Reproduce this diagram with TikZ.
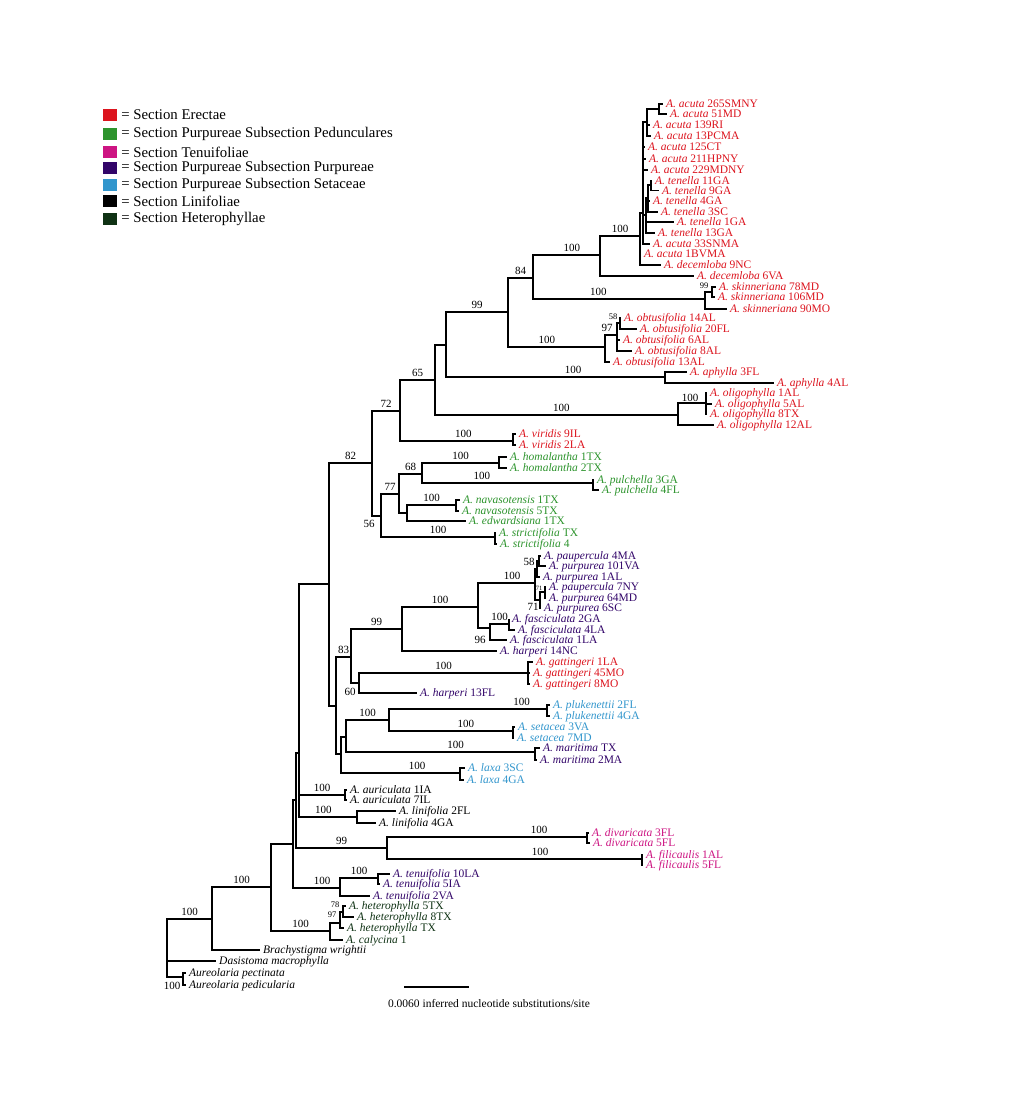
\documentclass[tikz,border=0pt]{standalone}
\usepackage{fontspec}
\setmainfont{Liberation Serif}
\usetikzlibrary{positioning}
\definecolor{erc}{RGB}{220,20,30}
\definecolor{ped}{RGB}{45,148,45}
\definecolor{tenc}{RGB}{205,20,130}
\definecolor{pur}{RGB}{50,5,105}
\definecolor{setc}{RGB}{50,150,205}
\definecolor{hetc}{RGB}{15,50,20}
\newcommand{\asp}[2]{\textit{A. #1} #2}

\begin{document}
\begin{tikzpicture}[x=1pt, y=-1pt,
        br/.style={line width=1.5pt},
        taxon/.style={anchor=west, inner xsep=3pt, inner ysep=0pt, text height=8.5pt, text depth=1pt, font=\fontsize{11.5}{13}\selectfont},
        boot/.style={above, inner sep=2.5pt, font=\fontsize{11}{12}\selectfont},
        lab/.style={inner sep=0pt, font=\fontsize{11}{12}\selectfont},
        slab/.style={inner sep=0pt, font=\fontsize{8.5}{9}\selectfont},
        legendbox/.style={minimum width=14pt, minimum height=12pt, inner sep=0pt},
        legendtext/.style={inner xsep=2pt, font=\fontsize{14.8}{16}\selectfont}]
        \fill[white] (0, 0) rectangle (1030, 1112);
        \useasboundingbox (0, 0) rectangle (1030, 1112);

        \foreach \c/\yy/\t [count=\i] in {erc/115/Erectae, ped/134/Purpureae Subsection Pedunculares, tenc/152/Tenuifoliae, pur/168/Purpureae Subsection Purpureae, setc/185/Purpureae Subsection Setaceae, black/201/Linifoliae, hetc/219/Heterophyllae} {
            \node[legendbox, fill=\c] (box\i) at (110, \yy) {};
            \node[legendtext, right=2pt of box\i] (entry\i) {= Section \t};
        }

        \coordinate (A1) at (659, 109);
        \coordinate (Q) at (647, 122);
        \coordinate (T1) at (651, 185);
        \coordinate (T2) at (648, 198);
        \coordinate (T) at (646, 215);
        \coordinate (P) at (643, 213);
        \coordinate (R) at (640, 236);
        \coordinate (N100a) at (600, 255);
        \coordinate (Sk99) at (712, 292);
        \coordinate (Sk) at (705, 299);
        \coordinate (N84) at (533, 278);
        \coordinate (N58o) at (620, 323);
        \coordinate (Ob97) at (617, 335);
        \coordinate (Ob) at (605, 347);
        \coordinate (N99) at (508, 312);
        \coordinate (Aph) at (665, 377);
        \coordinate (Nx) at (446, 345);
        \coordinate (Ol100) at (706, 403);
        \coordinate (Ol) at (678, 415);
        \coordinate (N65) at (435, 380);
        \coordinate (Vir) at (513, 441);
        \coordinate (N72) at (400, 411);
        \coordinate (Hom) at (499, 463);
        \coordinate (Pul) at (593, 483);
        \coordinate (N68) at (422, 474);
        \coordinate (Nav) at (456, 505);
        \coordinate (NavE) at (407, 513);
        \coordinate (N77) at (399, 494);
        \coordinate (Str) at (495, 537);
        \coordinate (N56) at (381, 516);
        \coordinate (N82) at (372, 463);
        \coordinate (N58p) at (539, 561);
        \coordinate (Nq) at (537, 569);
        \coordinate (N71a) at (545, 592);
        \coordinate (N71b) at (540, 600);
        \coordinate (Np) at (535, 583);
        \coordinate (Fa) at (509, 624);
        \coordinate (N96) at (490, 628);
        \coordinate (N100d) at (478, 607);
        \coordinate (N99b) at (402, 629);
        \coordinate (Gat) at (528, 673);
        \coordinate (N60) at (359, 683);
        \coordinate (N83) at (351, 657);
        \coordinate (Pk) at (547, 709);
        \coordinate (Se) at (513, 731);
        \coordinate (N100c) at (389, 720);
        \coordinate (Ma) at (535, 752);
        \coordinate (N346) at (346, 737);
        \coordinate (La) at (460, 773);
        \coordinate (N341) at (341, 754);
        \coordinate (N336) at (336, 706);
        \coordinate (Nbig) at (329, 584);
        \coordinate (Au) at (345, 795);
        \coordinate (Li) at (357, 817);
        \coordinate (N299) at (299, 753);
        \coordinate (Dv) at (587, 837);
        \coordinate (Fi) at (642, 859);
        \coordinate (Di) at (387, 848);
        \coordinate (N296) at (296, 800);
        \coordinate (Te100) at (378, 878);
        \coordinate (Te) at (340, 888);
        \coordinate (N293) at (293, 844);
        \coordinate (N78) at (343, 912);
        \coordinate (N97) at (340, 923);
        \coordinate (He) at (330, 931);
        \coordinate (N271) at (271, 887);
        \coordinate (N212) at (212, 919);
        \coordinate (Aur) at (183, 977);
        \coordinate (root) at (167, 950);

        \node[taxon, erc] (acu265) at (663, 104) {\asp{acuta}{265SMNY}};
        \node[taxon, erc] (acu51) at (667, 114) {\asp{acuta}{51MD}};
        \node[taxon, erc] (acu139) at (650, 125) {\asp{acuta}{139RI}};
        \node[taxon, erc] (acu13) at (651, 136) {\asp{acuta}{13PCMA}};
        \node[taxon, erc] (acu125) at (645, 147) {\asp{acuta}{125CT}};
        \node[taxon, erc] (acu211) at (646, 159) {\asp{acuta}{211HPNY}};
        \node[taxon, erc] (acu229) at (648, 170) {\asp{acuta}{229MDNY}};
        \node[taxon, erc] (ten11) at (652, 180.5) {\asp{tenella}{11GA}};
        \node[taxon, erc] (ten9) at (659, 190.5) {\asp{tenella}{9GA}};
        \node[taxon, erc] (ten4) at (650, 201) {\asp{tenella}{4GA}};
        \node[taxon, erc] (ten3) at (658, 212) {\asp{tenella}{3SC}};
        \node[taxon, erc] (ten1) at (674, 222) {\asp{tenella}{1GA}};
        \node[taxon, erc] (ten13) at (655, 233) {\asp{tenella}{13GA}};
        \node[taxon, erc] (acu33) at (650, 244) {\asp{acuta}{33SNMA}};
        \node[taxon, erc] (acu1) at (641, 254) {\asp{acuta}{1BVMA}};
        \node[taxon, erc] (dec9) at (661, 265) {\asp{decemloba}{9NC}};
        \node[taxon, erc] (dec6) at (694, 276) {\asp{decemloba}{6VA}};
        \node[taxon, erc] (ski78) at (716, 287) {\asp{skinneriana}{78MD}};
        \node[taxon, erc] (ski106) at (715, 297) {\asp{skinneriana}{106MD}};
        \node[taxon, erc] (ski90) at (727, 309) {\asp{skinneriana}{90MO}};
        \node[taxon, erc] (obt14) at (621, 318) {\asp{obtusifolia}{14AL}};
        \node[taxon, erc] (obt20) at (637, 329) {\asp{obtusifolia}{20FL}};
        \node[taxon, erc] (obt6) at (620, 340) {\asp{obtusifolia}{6AL}};
        \node[taxon, erc] (obt8) at (632, 351) {\asp{obtusifolia}{8AL}};
        \node[taxon, erc] (obt13) at (610, 362) {\asp{obtusifolia}{13AL}};
        \node[taxon, erc] (aph3) at (687, 372) {\asp{aphylla}{3FL}};
        \node[taxon, erc] (aph4) at (774, 383) {\asp{aphylla}{4AL}};
        \node[taxon, erc] (oli1) at (707, 393) {\asp{oligophylla}{1AL}};
        \node[taxon, erc] (oli5) at (712, 404) {\asp{oligophylla}{5AL}};
        \node[taxon, erc] (oli8) at (707, 414) {\asp{oligophylla}{8TX}};
        \node[taxon, erc] (oli12) at (714, 425) {\asp{oligophylla}{12AL}};
        \node[taxon, erc] (vir9) at (516, 434) {\asp{viridis}{9IL}};
        \node[taxon, erc] (vir2) at (516, 445) {\asp{viridis}{2LA}};
        \node[taxon, ped] (hom1) at (507, 457) {\asp{homalantha}{1TX}};
        \node[taxon, ped] (hom2) at (507, 468) {\asp{homalantha}{2TX}};
        \node[taxon, ped] (pul3) at (594, 480) {\asp{pulchella}{3GA}};
        \node[taxon, ped] (pul4) at (599, 490) {\asp{pulchella}{4FL}};
        \node[taxon, ped] (nav1) at (460, 500) {\asp{navasotensis}{1TX}};
        \node[taxon, ped] (nav5) at (459, 511) {\asp{navasotensis}{5TX}};
        \node[taxon, ped] (edw1) at (466, 521) {\asp{edwardsiana}{1TX}};
        \node[taxon, ped] (str1) at (496, 533) {\asp{strictifolia}{TX}};
        \node[taxon, ped] (str4) at (497, 544) {\asp{strictifolia}{4}};
        \node[taxon, pur] (pau4) at (541, 556) {\asp{paupercula}{4MA}};
        \node[taxon, pur] (pur101) at (546, 566) {\asp{purpurea}{101VA}};
        \node[taxon, pur] (pur1) at (540, 577) {\asp{purpurea}{1AL}};
        \node[taxon, pur] (pau7) at (546, 587) {\asp{paupercula}{7NY}};
        \node[taxon, pur] (pur64) at (546, 598) {\asp{purpurea}{64MD}};
        \node[taxon, pur] (pur6) at (541, 608) {\asp{purpurea}{6SC}};
        \node[taxon, pur] (fas2) at (509, 619) {\asp{fasciculata}{2GA}};
        \node[taxon, pur] (fas4) at (515, 630) {\asp{fasciculata}{4LA}};
        \node[taxon, pur] (fas1) at (507, 640) {\asp{fasciculata}{1LA}};
        \node[taxon, pur] (har14) at (497, 651) {\asp{harperi}{14NC}};
        \node[taxon, erc] (gat1) at (533, 662) {\asp{gattingeri}{1LA}};
        \node[taxon, erc] (gat45) at (530, 673) {\asp{gattingeri}{45MO}};
        \node[taxon, erc] (gat8) at (530, 684) {\asp{gattingeri}{8MO}};
        \node[taxon, pur] (har13) at (417, 693) {\asp{harperi}{13FL}};
        \node[taxon, setc] (plu2) at (550, 705) {\asp{plukenettii}{2FL}};
        \node[taxon, setc] (plu4) at (550, 716) {\asp{plukenettii}{4GA}};
        \node[taxon, setc] (set3) at (515, 727) {\asp{setacea}{3VA}};
        \node[taxon, setc] (set7) at (514, 738) {\asp{setacea}{7MD}};
        \node[taxon, pur] (mar1) at (540, 748) {\asp{maritima}{TX}};
        \node[taxon, pur] (mar2) at (537, 760) {\asp{maritima}{2MA}};
        \node[taxon, setc] (lax3) at (465, 768) {\asp{laxa}{3SC}};
        \node[taxon, setc] (lax4) at (464, 780) {\asp{laxa}{4GA}};
        \node[taxon] (aur1) at (347, 790) {\asp{auriculata}{1IA}};
        \node[taxon] (aur7) at (347, 800) {\asp{auriculata}{7IL}};
        \node[taxon] (lin2) at (396, 811) {\asp{linifolia}{2FL}};
        \node[taxon] (lin4) at (376, 823) {\asp{linifolia}{4GA}};
        \node[taxon, tenc] (div3) at (589, 833) {\asp{divaricata}{3FL}};
        \node[taxon, tenc] (div5) at (590, 843) {\asp{divaricata}{5FL}};
        \node[taxon, tenc] (fil1) at (643, 855) {\asp{filicaulis}{1AL}};
        \node[taxon, tenc] (fil5) at (643, 865) {\asp{filicaulis}{5FL}};
        \node[taxon, pur] (tnf10) at (390, 874) {\asp{tenuifolia}{10LA}};
        \node[taxon, pur] (tnf5) at (380, 884) {\asp{tenuifolia}{5IA}};
        \node[taxon, pur] (tnf2) at (370, 896) {\asp{tenuifolia}{2VA}};
        \node[taxon, hetc] (het5) at (346, 906) {\asp{heterophylla}{5TX}};
        \node[taxon, hetc] (het8) at (354, 917) {\asp{heterophylla}{8TX}};
        \node[taxon, hetc] (hetTX) at (344, 928) {\asp{heterophylla}{TX}};
        \node[taxon, hetc] (cal1) at (343, 940) {\asp{calycina}{1}};
        \node[taxon] (bra) at (260, 950) {\textit{Brachystigma wrightii}};
        \node[taxon] (das) at (216, 961) {\textit{Dasistoma macrophylla}};
        \node[taxon] (aupe) at (186, 973) {\textit{Aureolaria pectinata}};
        \node[taxon] (aupd) at (186, 985) {\textit{Aureolaria pedicularia}};

        \draw[br] (A1) |- (acu265) (A1) |- (acu51);
        \draw[br] (Q) |- (A1) (Q) |- (acu139) (Q) |- (acu13);
        \draw[br] (T1) |- (ten11) (T1) |- (ten9);
        \draw[br] (T2) |- (T1) (T2) |- (ten4) (T2) |- (ten3);
        \draw[br] (T) |- (T2) (T) |- (ten1) (T) |- (ten13);
        \draw[br] (P) |- (Q) (P) |- (acu125) (P) |- (acu211) (P) |- (acu229) (P) |- (T) (P) |- (acu33);
        \draw[br] (R) |- (P) (R) |- (acu1) (R) |- (dec9);
        \draw[br] (N100a) |- node[boot, pos=0.75] (bR) {100} (R) (N100a) |- (dec6);
        \draw[br] (Sk99) |- (ski78) (Sk99) |- (ski106);
        \node[slab] (bSk99) at ([shift={(-8, -6)}]Sk99) {99};
        \draw[br] (Sk) |- (Sk99) (Sk) |- (ski90);
        \draw[br] (N84) |- node[boot, pos=0.79] (bN100a) {100} (N100a) (N84) |- node[boot, pos=0.69] (bSk) {100} (Sk);
        \draw[br] (N58o) |- (obt14) (N58o) |- (obt20);
        \node[slab] (bN58o) at ([shift={(-7, -6)}]N58o) {58};
        \draw[br] (Ob97) |- (N58o) (Ob97) |- (obt6) (Ob97) |- (obt8);
        \node[lab] (bOb97) at ([shift={(-10, -7)}]Ob97) {97};
        \draw[br] (Ob) |- (Ob97) (Ob) |- (obt13);
        \draw[br] (N99) |- node[boot, pos=0.75] (bN84) {84} (N84) (N99) |- node[boot, pos=0.7] (bOb) {100} (Ob);
        \draw[br] (Aph) |- (aph3) (Aph) |- (aph4);
        \draw[br] (Nx) |- node[boot, pos=0.75] (bN99) {99} (N99) (Nx) |- node[boot, pos=0.79] (bAph) {100} (Aph);
        \draw[br] (Ol100) |- (oli1) (Ol100) |- (oli5) (Ol100) |- (oli8);
        \node[lab] (bOl100) at ([shift={(-16, -5)}]Ol100) {100};
        \draw[br] (Ol) |- (Ol100) (Ol) |- (oli12);
        \draw[br] (N65) |- (Nx) (N65) |- node[boot, pos=0.76] (bOl) {100} (Ol);
        \draw[br] (Vir) |- (vir9) (Vir) |- (vir2);
        \draw[br] (N72) |- node[boot, pos=0.75] (bN65) {65} (N65) (N72) |- node[boot, pos=0.78] (bVir) {100} (Vir);
        \draw[br] (Hom) |- (hom1) (Hom) |- (hom2);
        \draw[br] (Pul) |- (pul3) (Pul) |- (pul4);
        \draw[br] (N68) |- node[boot, pos=0.75] (bHom) {100} (Hom) (N68) |- node[boot, pos=0.675] (bPul) {100} (Pul);
        \draw[br] (Nav) |- (nav1) (Nav) |- (nav5);
        \draw[br] (NavE) |- node[boot, pos=0.75] (bNav) {100} (Nav) (NavE) |- (edw1);
        \draw[br] (N77) |- node[boot, pos=0.75] (bN68) {68} (N68) (N77) |- (NavE);
        \draw[br] (Str) |- (str1) (Str) |- (str4);
        \draw[br] (N56) |- node[boot, pos=0.75] (bN77) {77} (N77) (N56) |- node[boot, pos=0.75] (bStr) {100} (Str);
        \draw[br] (N82) |- node[boot, pos=0.75] (bN72) {72} (N72) (N82) |- (N56);
        \node[lab] (bN56) at ([shift={(-12, 8)}]N56) {56};

        \draw[br] (N58p) |- (pau4) (N58p) |- (pur101);
        \node[lab] (bN58p) at ([shift={(-10, 1)}]N58p) {58};
        \draw[br] (Nq) |- (N58p) (Nq) |- (pur1);
        \draw[br] (N71a) |- (pau7) (N71a) |- (pur64);
        \node[lab, font=\fontsize{6.5}{7}\selectfont] (bN71a) at ([shift={(-6, -4)}]N71a) {71};
        \draw[br] (N71b) |- (N71a) (N71b) |- (pur6);
        \node[lab] (bN71b) at ([shift={(-7, 7)}]N71b) {71};
        \draw[br] (Np) |- (Nq) (Np) |- (N71b);
        \draw[br] (Fa) |- (fas2) (Fa) |- (fas4);
        \draw[br] (N96) |- node[boot, pos=0.75] (bFa) {100} (Fa) (N96) |- (fas1);
        \node[lab] (bN96) at ([shift={(-10, 12)}]N96) {96};
        \draw[br] (N100d) |- node[boot, pos=0.8] (bNp) {100} (Np) (N100d) |- (N96);
        \draw[br] (N99b) |- node[boot, pos=0.75] (bN100d) {100} (N100d) (N99b) |- (har14);
        \draw[br] (Gat) |- (gat1) (Gat) |- (gat45) (Gat) |- (gat8);
        \draw[br] (N60) |- node[boot, pos=0.75] (bGat) {100} (Gat) (N60) |- (har13);
        \node[lab] (bN60) at ([shift={(-9, 9)}]N60) {60};
        \draw[br] (N83) |- node[boot, pos=0.75] (bN99b) {99} (N99b) (N83) |- (N60);
        \draw[br] (Pk) |- (plu2) (Pk) |- (plu4);
        \draw[br] (Se) |- (set3) (Se) |- (set7);
        \draw[br] (N100c) |- node[boot, pos=0.92] (bPk) {100} (Pk) (N100c) |- node[boot, pos=0.81] (bSe) {100} (Se);
        \draw[br] (Ma) |- (mar1) (Ma) |- (mar2);
        \draw[br] (N346) |- node[boot, pos=0.75] (bN100c) {100} (N100c) (N346) |- node[boot, pos=0.79] (bMa) {100} (Ma);
        \draw[br] (La) |- (lax3) (La) |- (lax4);
        \draw[br] (N341) |- (N346) (N341) |- node[boot, pos=0.82] (bLa) {100} (La);
        \draw[br] (N336) |- node[boot, pos=0.75] (bN83) {83} (N83) (N336) |- (N341);
        \draw[br] (Nbig) |- node[boot, pos=0.75] (bN82) {82} (N82) (Nbig) |- (N336);
        \draw[br] (Au) |- (aur1) (Au) |- (aur7);
        \draw[br] (Li) |- (lin2) (Li) |- (lin4);
        \draw[br] (N299) |- (Nbig) (N299) |- node[boot, pos=0.75] (bAu) {100} (Au) (N299) |- node[boot, pos=0.71] (bLi) {100} (Li);
        \draw[br] (Dv) |- (div3) (Dv) |- (div5);
        \draw[br] (Fi) |- (fil1) (Fi) |- (fil5);
        \draw[br] (Di) |- node[boot, pos=0.88] (bDv) {100} (Dv) (Di) |- node[boot, pos=0.8] (bFi) {100} (Fi);
        \draw[br] (N296) |- (N299) (N296) |- node[boot, pos=0.75] (bDi) {99} (Di);
        \draw[br] (Te100) |- (tnf10) (Te100) |- (tnf5);
        \draw[br] (Te) |- node[boot, pos=0.75] (bTe100) {100} (Te100) (Te) |- (tnf2);
        \draw[br] (N293) |- (N296) (N293) |- node[boot, pos=0.81] (bTe) {100} (Te);
        \draw[br] (N78) |- (het5) (N78) |- (het8);
        \node[slab] (bN78) at ([shift={(-8, -7)}]N78) {78};
        \draw[br] (N97) |- (N78) (N97) |- (hetTX);
        \node[slab] (bN97) at ([shift={(-8, -8)}]N97) {97};
        \draw[br] (He) |- (N97) (He) |- (cal1);
        \draw[br] (N271) |- (N293) (N271) |- node[boot, pos=0.75] (bHe) {100} (He);
        \draw[br] (N212) |- node[boot, pos=0.75] (bN271) {100} (N271) (N212) |- (bra);
        \draw[br] (Aur) |- (aupe) (Aur) |- (aupd);
        \node[lab] (bAur) at ([shift={(-11, 9)}]Aur) {100};
        \draw[br] (root) |- node[boot, pos=0.75] (bN212) {100} (N212) (root) |- (das) (root) |- (Aur);

        \coordinate (sbl) at (404, 987);
        \coordinate (sbr) at (469, 987);
        \draw[br] (sbl) -- (sbr);
        \node[font=\fontsize{11.5}{12}\selectfont] (sbtext) at (489, 1004) {0.0060 inferred nucleotide substitutions/site};
\end{tikzpicture}
\end{document}
